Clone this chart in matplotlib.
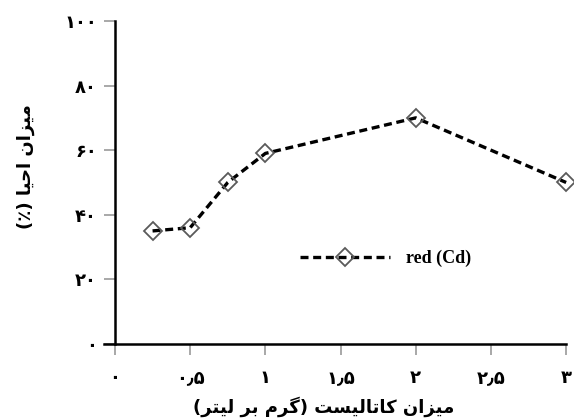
import matplotlib
matplotlib.use("Agg")
import matplotlib.pyplot as plt

# ---- data ----
catalyst = [0.25, 0.5, 0.75, 1.0, 2.0, 3.0]
reduction = [35, 36, 50, 59, 70, 50]
series_name = "red (Cd)"
x_ticks = [0, 0.5, 1, 1.5, 2, 2.5, 3]
y_ticks = [0, 20, 40, 60, 80, 100]
x_label = "میزان کاتالیست (گرم بر لیتر)"
y_label = "میزان احیا (٪)"

# ---- minimal Arabic/Persian shaping for matplotlib ----
FORMS = {  # iso, fin, ini, med
    'ا': ('\uFE8D', '\uFE8E', None, None),
    'ب': ('\uFE8F', '\uFE90', '\uFE91', '\uFE92'),
    'ت': ('\uFE95', '\uFE96', '\uFE97', '\uFE98'),
    'ح': ('\uFEA1', '\uFEA2', '\uFEA3', '\uFEA4'),
    'ر': ('\uFEAD', '\uFEAE', None, None),
    'ز': ('\uFEAF', '\uFEB0', None, None),
    'س': ('\uFEB1', '\uFEB2', '\uFEB3', '\uFEB4'),
    'ل': ('\uFEDD', '\uFEDE', '\uFEDF', '\uFEE0'),
    'م': ('\uFEE1', '\uFEE2', '\uFEE3', '\uFEE4'),
    'ن': ('\uFEE5', '\uFEE6', '\uFEE7', '\uFEE8'),
    'ی': ('\uFEEF', '\uFEF0', '\uFEF3', '\uFEF4'),
    'ک': ('\uFB8E', '\uFB8F', '\uFB90', '\uFB91'),
    'گ': ('\uFB92', '\uFB93', '\uFB94', '\uFB95'),
}
MIRROR = {'(': ')', ')': '('}
PERSIAN_DIGITS = '۰۱۲۳۴۵۶۷۸۹'


def shape(text):
    out = []
    n = len(text)
    for i, ch in enumerate(text):
        if ch not in FORMS:
            out.append(MIRROR.get(ch, ch))
            continue
        iso, fin, ini, med = FORMS[ch]
        prev = text[i - 1] if i > 0 else ''
        nxt = text[i + 1] if i < n - 1 else ''
        jp = prev in FORMS and FORMS[prev][2] is not None
        jn = nxt in FORMS and ini is not None
        if jp and jn:
            g = med
        elif jp:
            g = fin
        elif jn:
            g = ini
        else:
            g = iso
        out.append(g)
    return ''.join(reversed(out))


def fa_num(v):
    s = ('%g' % v).replace('.', '٫')
    return ''.join(PERSIAN_DIGITS[int(c)] if c.isdigit() else c for c in s)


plt.rcParams['font.family'] = ['DejaVu Sans']

fig = plt.figure(figsize=(5.74, 4.19), dpi=100)
ax = fig.add_axes([0.2003, 0.179, 0.786, 0.771])

ax.plot(catalyst, reduction, color='black', linestyle=(0, (2.4, 1.4)), linewidth=2.4,
        marker='D', markersize=9.5, markerfacecolor='none', markeredgecolor='#5a5a5a',
        markeredgewidth=1.3, label=series_name, clip_on=False)

ax.set_xlim(0, 3)
ax.set_ylim(0, 100)
ax.set_xticks(x_ticks)
ax.set_xticklabels([fa_num(v) for v in x_ticks], fontsize=13, fontweight='bold')
ax.set_yticks(y_ticks)
ax.set_yticklabels([fa_num(v) for v in y_ticks], fontsize=13, fontweight='bold')

for side in ['top', 'right']:
    ax.spines[side].set_visible(False)
for side in ['left', 'bottom']:
    ax.spines[side].set_linewidth(1.8)
    ax.spines[side].set_color('black')
ax.spines['bottom'].set_bounds(-0.07, 3)

ax.tick_params(axis='both', which='major', direction='out', length=8, width=1.2,
               color='#999999', labelcolor='black')
ax.tick_params(axis='x', pad=10)
ax.tick_params(axis='y', pad=5)

ax.set_xlabel(shape(x_label), fontsize=13, fontweight='bold')
ax.xaxis.set_label_coords(0.462, -0.163)
ax.set_ylabel(shape(y_label), fontsize=13, fontweight='bold')
ax.yaxis.set_label_coords(-0.177, 0.55)

leg = ax.legend(loc='center', bbox_to_anchor=(0.60, 0.265), frameon=False,
                handlelength=5.0, handletextpad=0.9,
                prop={'family': 'Liberation Serif', 'weight': 'bold', 'size': 13})

fig.savefig('out.png', dpi=100)
